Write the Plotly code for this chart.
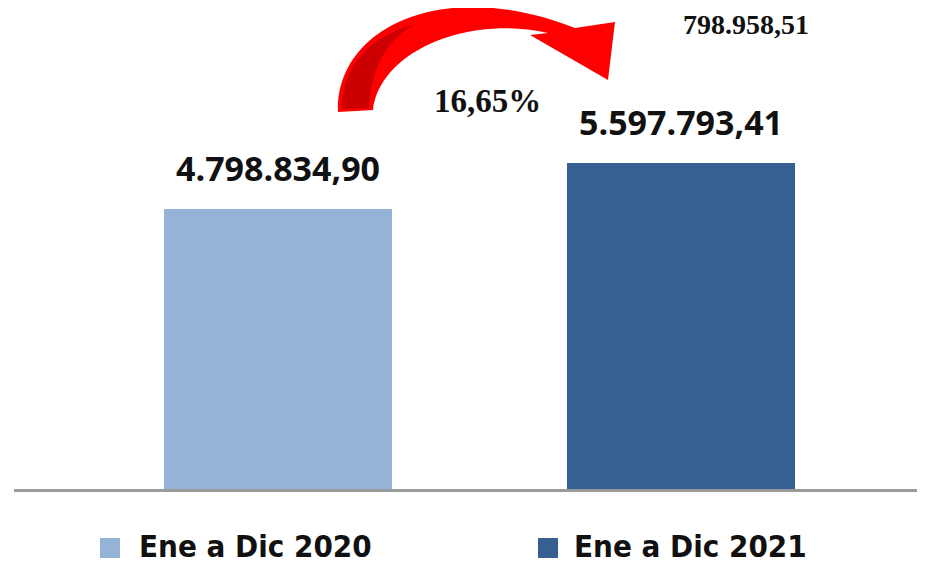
import plotly.graph_objects as go

categories = ["Ene a Dic 2020", "Ene a Dic 2021"]
values = [4798834.90, 5597793.41]
bar_colors = ["#95B3D7", "#376092"]

diff = values[1] - values[0]
pct = diff / values[0] * 100


def fmt_es(v, dec=2):
    s = f"{v:,.{dec}f}"
    return s.replace(",", "X").replace(".", ",").replace("X", ".")


W, H = 925, 564
OFF = 8  # page body margin
ML, MR, MT, MB = 6, 0, 0, 83
PW, PH = W - ML - MR, H - MT - MB


def px(x, y):
    return (x - OFF - ML) / PW, (H - MB - (y - OFF)) / PH


def path(cmds):
    out = []
    for c in cmds:
        op, pts = c[0], c[1:]
        coords = []
        for i in range(0, len(pts), 2):
            a, b = px(pts[i], pts[i + 1])
            coords.append(f"{a:.5f},{b:.5f}")
        out.append(op + " " + " ".join(coords))
    return " ".join(out) + " Z"


fig = go.Figure()
for i, (cat, val, col) in enumerate(zip(categories, values, bar_colors)):
    fig.add_trace(go.Bar(
        x=[i], y=[val], name=cat, marker=dict(color=col, line=dict(width=0)),
        width=0.566, hoverinfo="skip", showlegend=False,
    ))
    fig.add_annotation(
        x=i, y=val, text=fmt_es(val), showarrow=False, xanchor="center",
        yanchor="bottom", yshift=16,
        font=dict(family="Open Sans", size=34, color="#111111", weight="bold"),
    )

# curved red arrow
arrow_outer = path([
    ("M", 338, 112),
    ("C", 335, 30, 440, -25, 575, 28),
    ("L", 615, 22),
    ("L", 608, 80),
    ("L", 530, 35),
    ("L", 548, 33),
    ("C", 470, 15, 380, 50, 373, 110),
])
arrow_dark = path([
    ("M", 342, 109),
    ("C", 341, 65, 372, 36, 415, 24),
    ("C", 390, 38, 371, 64, 369, 108),
])
fig.add_shape(type="path", path=arrow_outer, xref="paper", yref="paper",
              fillcolor="#FF0000", line=dict(width=0), layer="above")
fig.add_shape(type="path", path=arrow_dark, xref="paper", yref="paper",
              fillcolor="#CC0000", line=dict(width=0), layer="above")

ax, ay = px(487, 101)
fig.add_annotation(x=ax, y=ay, xref="paper", yref="paper", showarrow=False,
                   xanchor="center", yanchor="middle",
                   text=fmt_es(pct) + "%",
                   font=dict(family="Liberation Serif", size=33, color="#111111", weight="bold"))
bx, by = px(746, 24)
fig.add_annotation(x=bx, y=by, xref="paper", yref="paper", showarrow=False,
                   xanchor="center", yanchor="middle",
                   text=fmt_es(diff),
                   font=dict(family="Liberation Serif", size=28, color="#111111", weight="bold"))

# legend (drawn manually)
legend_sq_x = [100, 538]
legend_tx_x = [137, 572]
for sx, tx, cat, col in zip(legend_sq_x, legend_tx_x, categories, bar_colors):
    x0, y0 = px(sx, 558)
    x1, y1 = px(sx + 20, 538)
    fig.add_shape(type="rect", xref="paper", yref="paper", x0=x0, y0=y0, x1=x1, y1=y1,
                  fillcolor=col, line=dict(width=0))
    tx0, ty0 = px(tx, 546)
    fig.add_annotation(x=tx0, y=ty0, xref="paper", yref="paper", showarrow=False,
                       xanchor="left", yanchor="middle", text=cat,
                       font=dict(family="Liberation Sans Narrow, DejaVu Sans Condensed, sans-serif",
                                 size=31, color="#111111", weight="bold"))

fig.update_layout(
    width=W, height=H,
    margin=dict(l=ML, r=MR, t=MT, b=MB, autoexpand=False),
    paper_bgcolor="white", plot_bgcolor="white",
    showlegend=False,
    xaxis=dict(range=[-0.655, 1.625], showticklabels=False, showgrid=False, zeroline=False,
               showline=True, linecolor="#9A9A9A", linewidth=3, ticks=""),
    yaxis=dict(range=[0, 8.254e6], visible=False),
    bargap=0,
)

fig.write_html("out.html")
